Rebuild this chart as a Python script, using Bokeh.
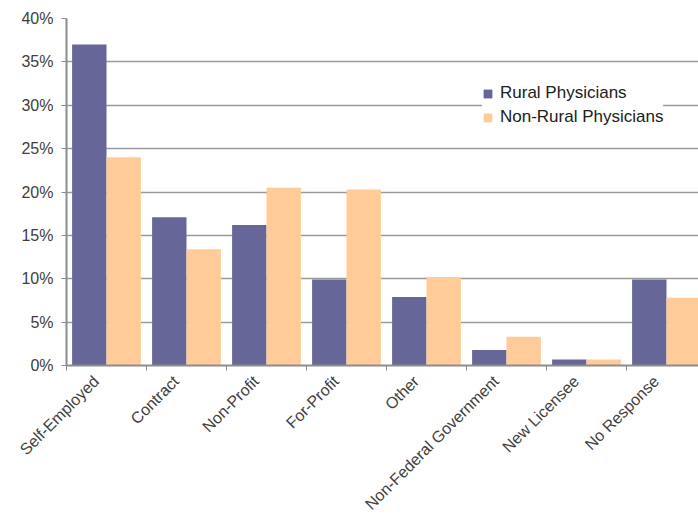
import math
from bokeh.plotting import figure
from bokeh.models import (Range1d, FixedTicker, PrintfTickFormatter, LinearAxis,
                          Legend, LegendItem, ColumnDataSource)
from bokeh.embed import file_html
from bokeh.resources import INLINE

categories = ["Self-Employed", "Contract", "Non-Profit", "For-Profit", "Other",
              "Non-Federal Government", "New Licensee", "No Response"]
rural = [37.0, 17.1, 16.2, 9.9, 7.9, 1.8, 0.7, 9.9]
non_rural = [24.0, 13.4, 20.5, 20.3, 10.2, 3.3, 0.7, 7.8]
y_ticks = [0, 5, 10, 15, 20, 25, 30, 35, 40]
series_names = ["Rural Physicians", "Non-Rural Physicians"]
colors = ["#666699", "#FFCC99"]

idx = list(range(len(categories)))
src = ColumnDataSource(dict(
    xr=[i + 0.285 for i in idx],
    xn=[i + 0.715 for i in idx],
    rural=rural,
    non_rural=non_rural,
))

FONT = "Liberation Sans"
TXT = "#404040"

p = figure(width=698, height=522, output_backend="svg", toolbar_location=None,
           x_range=Range1d(0, 7.9), y_range=Range1d(0, 40),
           min_border_left=66, min_border_right=0, min_border_top=18,
           min_border_bottom=157, x_axis_location=None)
p.outline_line_color = None
p.background_fill_color = "white"
p.border_fill_color = "white"

r1 = p.vbar(x="xr", top="rural", width=0.43, source=src, color=colors[0], line_color=None)
r2 = p.vbar(x="xn", top="non_rural", width=0.43, source=src, color=colors[1], line_color=None)

# y axis
ya = p.yaxis[0]
ya.ticker = FixedTicker(ticks=y_ticks)
ya.formatter = PrintfTickFormatter(format="%d%%")
ya.major_label_text_font = FONT
ya.major_label_text_font_size = "16px"
ya.major_label_text_color = TXT
ya.axis_line_color = "#8c8c8c"
ya.axis_line_width = 2
ya.major_tick_line_color = "#8c8c8c"
ya.major_tick_in = 0
ya.major_tick_out = 5
ya.minor_tick_line_color = None
ya.major_label_standoff = 8

p.xgrid.grid_line_color = None
p.ygrid.ticker = FixedTicker(ticks=y_ticks)
p.ygrid.grid_line_color = "#9a9a9a"
p.ygrid.grid_line_width = 1.5

# x axis: boundary ticks
xb = LinearAxis(ticker=FixedTicker(ticks=idx),
                major_label_overrides={i: "" for i in idx})
xb.axis_line_color = "#8c8c8c"
xb.axis_line_width = 2
xb.major_tick_line_color = "#8c8c8c"
xb.major_tick_in = 0
xb.major_tick_out = 5
xb.minor_tick_line_color = None
xb.major_label_text_font_size = "0px"
xb.major_label_standoff = 0
p.add_layout(xb, "below")

# x axis: category labels
label_pos = [i + 0.37 for i in idx]
xl = LinearAxis(ticker=FixedTicker(ticks=label_pos),
                major_label_overrides={c: categories[i] for i, c in enumerate(label_pos)})
xl.axis_line_color = None
xl.major_tick_line_color = None
xl.major_tick_in = 0
xl.major_tick_out = 0
xl.minor_tick_line_color = None
xl.major_label_orientation = math.pi / 4
xl.major_label_text_font = FONT
xl.major_label_text_font_size = "16px"
xl.major_label_text_color = TXT
xl.major_label_standoff = 8
p.add_layout(xl, "below")

legend = Legend(items=[LegendItem(label=series_names[0], renderers=[r1]),
                       LegendItem(label=series_names[1], renderers=[r2])],
                location=(416, 238))
legend.label_text_font = FONT
legend.label_text_font_size = "17px"
legend.label_text_color = "#202020"
legend.glyph_width = 11
legend.glyph_height = 11
legend.label_height = 20
legend.label_standoff = 7
legend.spacing = 4
legend.padding = 7
legend.margin = 0
legend.border_line_color = None
legend.background_fill_color = "white"
legend.background_fill_alpha = 1
p.add_layout(legend, "center")

open("out.html", "w").write(file_html(p, INLINE))
